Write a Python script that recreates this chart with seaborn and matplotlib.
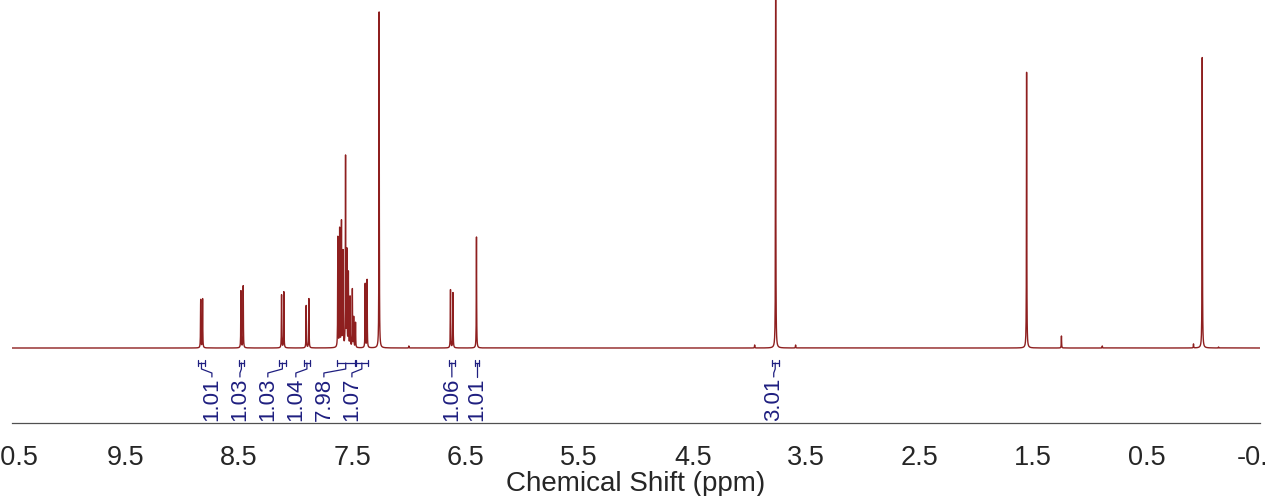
import numpy as np
import pandas as pd
import matplotlib
matplotlib.use('Agg')
import matplotlib.pyplot as plt
from matplotlib.ticker import MultipleLocator, FuncFormatter
import seaborn as sns

sns.set_style('white')
plt.rcParams['font.family'] = ['Liberation Sans', 'DejaVu Sans']

# ── peak list (ppm, height in px above baseline) ──
peak_ppm = [8.837, 8.820, 8.482, 8.462, 8.124, 8.104, 7.907, 7.883,
            7.628, 7.612, 7.596, 7.582, 7.560, 7.548, 7.535, 7.520, 7.500, 7.488, 7.472,
            7.387, 7.370, 7.264, 7.002,
            6.635, 6.613, 6.406,
            3.954, 3.769, 3.593,
            1.557, 1.250, 0.890, 0.086, 0.009, -0.135]
peak_height = [49, 49, 57, 62, 53, 56, 43, 50,
               110, 118, 125, 95, 190, 95, 75, 50, 58, 30, 25,
               65, 68, 336, 2,
               59, 56, 111,
               3, 365, 3,
               280, 12, 2, 4, 295, 1]
hwhm = 0.0016

# integrals: range start/end (ppm), value, label position (ppm)
int_start = [8.860, 8.500, 8.148, 7.927, 7.637, 7.470, 6.650, 6.420, 3.804]
int_end   = [8.800, 8.456, 8.086, 7.874, 7.480, 7.363, 6.597, 6.386, 3.742]
int_value = ['1.01', '1.03', '1.03', '1.04', '7.98', '1.07', '1.06', '1.01', '3.01']
int_label = [8.738, 8.491, 8.245, 7.998, 7.751, 7.504, 6.623, 6.403, 3.786]

LINE = '#8E1F1F'
INTC = '#1F1F80'

ppm = np.arange(-0.5, 10.5, 0.0004)
inten = np.zeros_like(ppm)
for p, h in zip(peak_ppm, peak_height):
    inten += h / (1 + ((ppm - p) / hwhm) ** 2)
spec = pd.DataFrame({'ppm': ppm, 'intensity': inten})

fig = plt.figure(figsize=(12.65, 4.96), dpi=100)
ax = fig.add_axes([12/1265, 73/496, 1248/1265, 423/496])

sns.lineplot(data=spec, x='ppm', y='intensity', ax=ax, color=LINE,
             linewidth=1.0, sort=False, estimator=None)

ax.set_xlim(10.5, -0.5)
ax.set_ylim(-75, 348)

# integral brackets, connectors and values
for s, e, v, xl in zip(int_start, int_end, int_value, int_label):
    xb = (s + e) / 2
    ax.plot([s, e], [-15, -15], color=INTC, lw=0.9, clip_on=False)
    ax.plot([s, s], [-12, -18], color=INTC, lw=0.9, clip_on=False)
    ax.plot([e, e], [-12, -18], color=INTC, lw=0.9, clip_on=False)
    ax.plot([xb, xb, xl, xl], [-15, -21, -25, -29], color=INTC, lw=0.9, clip_on=False)
    ax.text(xl, -73, v, rotation=90, ha='center', va='bottom',
            fontsize=16, color=INTC)

for sp in ['top', 'right', 'left']:
    ax.spines[sp].set_visible(False)
ax.spines['bottom'].set_color('#505050')
ax.spines['bottom'].set_linewidth(0.9)

ax.xaxis.set_major_locator(MultipleLocator(0.5))
ax.xaxis.set_minor_locator(MultipleLocator(0.25))
ax.xaxis.set_major_formatter(FuncFormatter(
    lambda v, pos: f'{v:.1f}' if abs((v - np.floor(v)) - 0.5) < 1e-6 else ''))
ax.tick_params(axis='x', which='major', direction='out', length=4, width=0.8,
               color='#505050', labelsize=19.5, pad=12)
ax.tick_params(axis='x', which='minor', direction='out', length=2.5, width=0.8,
               color='#505050')
ax.set_yticks([])
ax.set_ylabel('')
ax.set_xlabel('Chemical Shift (ppm)', fontsize=20, labelpad=0)

fig.savefig('out.png', dpi=100)
